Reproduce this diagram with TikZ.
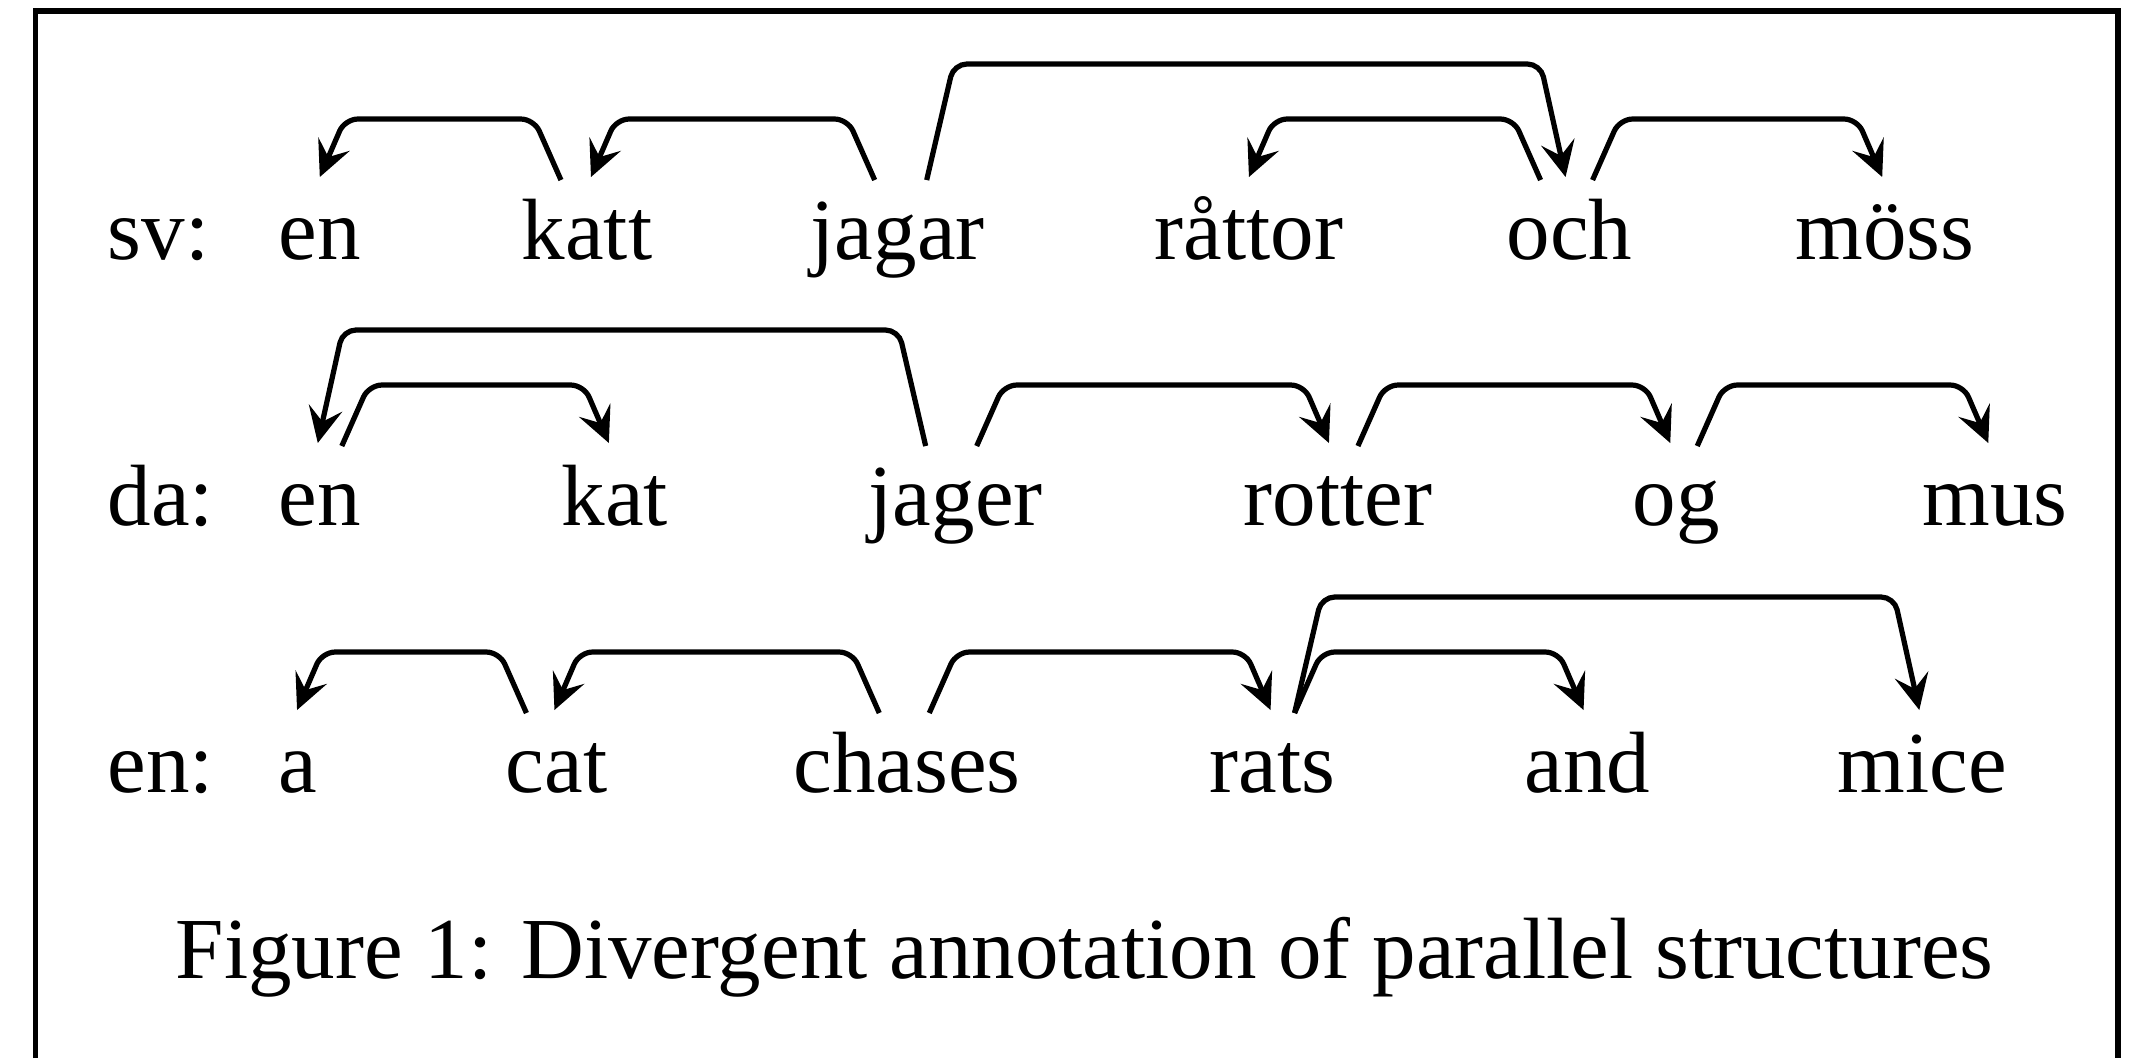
\documentclass[tikz,border=0pt]{standalone}
\usepackage{fontspec}
\setmainfont{Liberation Serif}
\usetikzlibrary{arrows.meta,calc}

% Dependency arc: head node, start offset, dependent node, end offset,
% height of the horizontal run above the baseline, direction (+1 right, -1 left)
\newcommand{\deparc}[6]{%
  \draw[dep] ($(#1.base)+(#2,-79)$) -- ++({(#6)*27},{-(#5-79)})
    -- ($(#3.base)+({#4-(#6)*25},{-#5})$) -- ($(#3.base)+(#4,-82)$);}

\begin{document}
\begin{tikzpicture}[x=0.11494pt,y=-0.11494pt,
  font=\fontsize{10pt}{12pt}\selectfont,
  word/.style={anchor=base west,inner sep=0pt},
  dep/.style={line width=0.6pt,rounded corners=1.5pt,
    -{Stealth[length=4.1pt,width=3.9pt,inset=1.6pt]}},
  frame/.style={line width=0.65pt}]
\useasboundingbox (0,0) rectangle (2142,1058);

% open frame running off the lower edge
\draw[frame] (35.5,1058) -- (35.5,11) -- (2118,11) -- (2118,1058);

% Swedish
\node[word] (lsv)    at (106,259)  {sv:};
\node[word] (sven)   at (277,259)  {en};
\node[word] (katt)   at (520,259)  {katt};
\node[word] (jagar)  at (809,259)  {jagar};
\node[word] (rattor) at (1153,259) {råttor};
\node[word] (och)    at (1505,259) {och};
\node[word] (moss)   at (1794,259) {möss};

% Danish
\node[word] (lda)    at (106,525)  {da:};
\node[word] (daen)   at (277,525)  {en};
\node[word] (kat)    at (560,525)  {kat};
\node[word] (jager)  at (867,525)  {jager};
\node[word] (rotter) at (1242,525) {rotter};
\node[word] (og)     at (1631,525) {og};
\node[word] (mus)    at (1921,525) {mus};

% English
\node[word] (len)    at (106,792)  {en:};
\node[word] (a)      at (277,792)  {a};
\node[word] (cat)    at (504,792)  {cat};
\node[word] (chases) at (792,792)  {chases};
\node[word] (rats)   at (1208,792) {rats};
\node[word] (and)    at (1523,792) {and};
\node[word] (mice)   at (1836,792) {mice};

\node[word] (cap) at (174,978) {Figure 1: Divergent annotation of parallel structures};

% Swedish arcs
\deparc{katt}{-26}{sven}{0}{140}{-1}
\deparc{jagar}{-23}{katt}{4}{140}{-1}
\deparc{jagar}{29}{och}{-4}{195}{1}
\deparc{och}{-29}{rattor}{0}{140}{-1}
\deparc{och}{23}{moss}{-3}{140}{1}

% Danish arcs
\deparc{daen}{22}{kat}{-6}{140}{1}
\deparc{jager}{-30}{daen}{-2}{195}{-1}
\deparc{jager}{21}{rotter}{-9}{140}{1}
\deparc{rotter}{20}{og}{-6}{140}{1}
\deparc{og}{21}{mus}{-7}{140}{1}

% English arcs
\deparc{cat}{-30}{a}{-1}{140}{-1}
\deparc{chases}{-28}{cat}{-2}{140}{-1}
\deparc{chases}{22}{rats}{-2}{140}{1}
\deparc{rats}{22}{and}{-4}{140}{1}
\deparc{rats}{22}{mice}{-3}{195}{1}
\end{tikzpicture}
\end{document}
